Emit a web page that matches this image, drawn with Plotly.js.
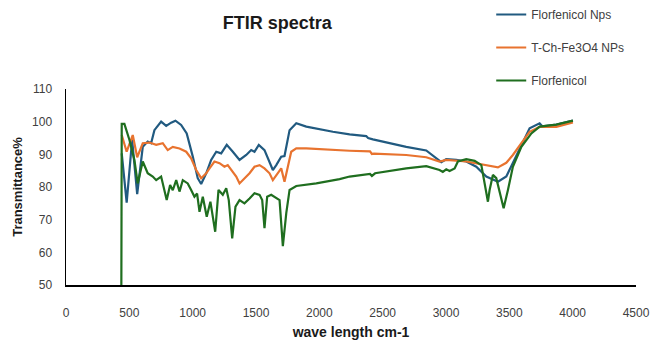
<!DOCTYPE html>
<html>
<head>
<meta charset="utf-8">
<script src="https://cdn.plot.ly/plotly-3.0.1.min.js"></script>
<style>html,body{margin:0;padding:0;background:#fff;}#chart{width:654px;height:349px;}</style>
</head>
<body>
<div id="chart"></div>
<script>
// Florfenicol Nps
const npsX = [440,479,522,562,606,645,672,698,751,791,830,864,909,953,1001,1040,1067,1107,1146,1186,1225,1269,1317,1370,1423,1462,1488,1522,1567,1607,1633,1660,1699,1725,1765,1818,1897,2107,2239,2370,2385,2423,2686,2844,2923,2963,3002,3081,3160,3239,3318,3410,3476,3528,3595,3660,3739,3760,3871,4002];
const npsY = [90.3,75.2,94.4,77.8,92.3,93.9,93.4,97.4,100,98.7,99.7,100.3,99,96.4,89.3,82.7,80.9,84.2,88.3,90.8,90.3,92.9,90.8,88.3,89.8,91.3,90.8,92.9,91.3,87.8,85.2,86.7,89.3,89.5,97.4,99.5,98.5,96.9,96.1,95.6,95,94.6,92.3,91.2,88.8,87.6,88.5,88.3,87.8,86.2,83.2,81.6,83.2,87.3,92.9,98,99.5,98.6,99.1,100.3];
// T-Ch-Fe3O4 NPs
const tchX = [440,479,527,562,606,659,712,764,803,843,896,949,988,1028,1067,1107,1133,1172,1212,1251,1277,1304,1344,1370,1409,1449,1488,1528,1567,1607,1633,1660,1699,1725,1751,1778,1818,1897,2239,2400,2415,2430,2686,2844,2949,3002,3160,3318,3410,3476,3528,3595,3660,3739,3871,4002];
const tchY = [95.9,90.8,95.9,89.1,93.4,93.6,92.9,93.4,91.3,92.3,91.8,90.8,88.8,85.2,82.7,84.2,85.7,87.8,87.3,86.2,86.7,85.2,83.2,81.1,82.7,84.2,86.2,86.7,85.7,84.2,82.1,83.7,85.7,81.6,86.2,90.8,91.8,91.8,91.1,90.9,90.1,90.2,89.8,89.1,87.8,88.3,87.8,86.7,86,87.4,89.8,93.4,96.9,98.4,98.4,99.8];
// Florfenicol
const florX = [437,440,461,501,540,566,606,645,685,712,751,764,795,822,843,870,896,922,961,988,1014,1035,1054,1080,1111,1140,1178,1204,1238,1265,1285,1312,1338,1370,1409,1449,1488,1528,1549,1567,1588,1620,1660,1686,1712,1739,1765,1818,1976,2160,2239,2400,2415,2440,2686,2844,2949,2975,3002,3028,3068,3094,3160,3226,3279,3318,3331,3344,3370,3397,3423,3455,3489,3528,3595,3674,3739,3871,4002];
const florY = [50,99.3,99.3,94.4,88.3,81.1,87.8,84.2,83.2,82.1,83.2,81.1,76,80.6,79,82.1,78.6,82.1,81.1,79.1,77,78,72.4,77,70.9,75.5,66.3,79.1,77.6,79.6,76,64.3,74,76,75,76.5,78.1,77.6,76,67.4,77,77.6,76.5,76,61.9,72,79.1,80.3,81.1,82.4,83.2,84,83.4,84.2,85.7,86.4,85.2,84.6,85.4,84.9,85.7,87.8,88.5,88,86.7,79.1,75.5,79,83.7,82.7,78.6,73.5,79.1,86.2,92.3,96.4,98.5,99.1,100.3];

const xTicks = [0,500,1000,1500,2000,2500,3000,3500,4000,4500];
const yTicks = [50,60,70,80,90,100,110];

const font = 'Liberation Sans, Arial, sans-serif';
const traces = [
  {x: npsX, y: npsY, name: 'Florfenicol Nps', mode: 'lines', legendgroup: 'a', line: {color: '#215a80', width: 2.2}},
  {x: tchX, y: tchY, name: 'T-Ch-Fe3O4 NPs', mode: 'lines', legendgroup: 'b', line: {color: '#e8732f', width: 2.2}},
  {x: florX, y: florY, name: 'Florfenicol', mode: 'lines', legendgroup: 'c', line: {color: '#1f6e1f', width: 2.2}}
];
const layout = {
  width: 654, height: 349,
  margin: {l: 66, r: 18, t: 89, b: 64, autoexpand: false},
  paper_bgcolor: '#fff', plot_bgcolor: '#fff',
  font: {family: font, size: 12, color: '#404040'},
  title: {text: '<b>FTIR spectra</b>', font: {family: font, size: 18, color: '#1a1a1a'}, xref: 'container', x: 0.424, xanchor: 'center', yref: 'container', y: 0.935, yanchor: 'middle'},
  xaxis: {range: [0, 4500], tickvals: xTicks, ticktext: xTicks.map(String), showgrid: false, zeroline: false, showline: true, linecolor: '#000', linewidth: 1.5, ticks: '', ticklabelstandoff: 16, automargin: false, tickfont: {size: 12, color: '#404040'},
    title: {text: '<b>wave length cm-1</b>', font: {size: 14, color: '#1a1a1a'}, standoff: 8}},
  yaxis: {range: [50, 110], tickvals: yTicks, ticktext: yTicks.map(String), showgrid: false, zeroline: false, showline: true, linecolor: '#000', linewidth: 1.5, ticks: '', ticklabelstandoff: 10, automargin: false, tickfont: {size: 12, color: '#404040'},
    title: {text: '<b>Transmittance%</b>', font: {size: 13, color: '#1a1a1a'}, standoff: 6}},
  showlegend: true,
  legend: {x: 0.746, xanchor: 'left', y: 1.454, yanchor: 'top', bgcolor: 'rgba(0,0,0,0)', font: {size: 12, color: '#404040'}, traceorder: 'grouped', tracegroupgap: 14}
};
Plotly.newPlot('chart', traces, layout, {displayModeBar: false, staticPlot: true});
</script>
</body>
</html>
